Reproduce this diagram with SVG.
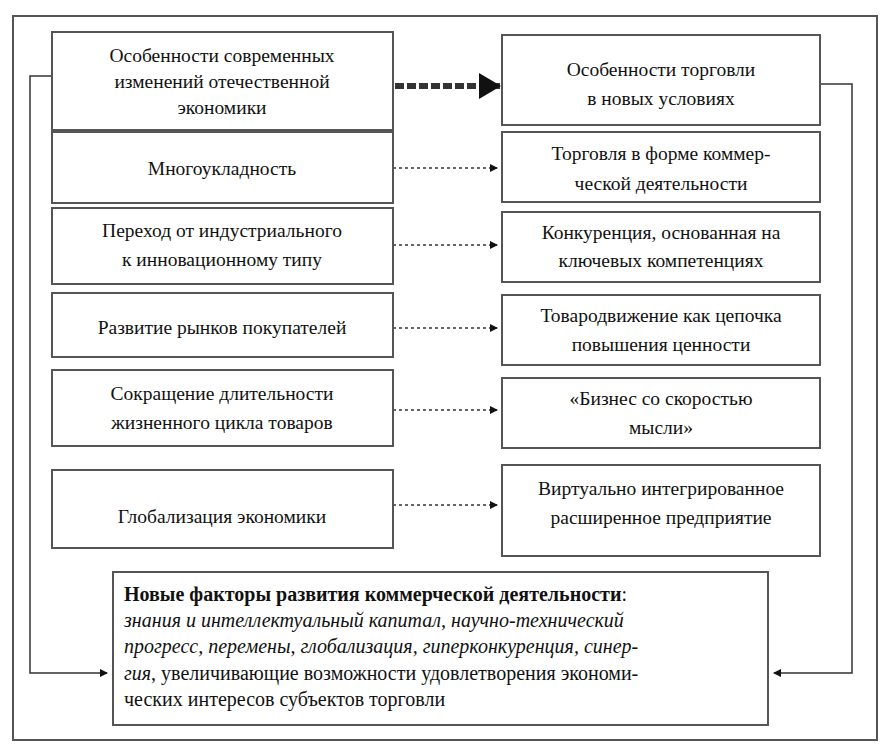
<svg xmlns="http://www.w3.org/2000/svg" width="888" height="745" viewBox="0 0 888 745">
<style>
rect{fill:#fff;stroke:#555;stroke-width:2}
text{font-family:"Liberation Serif",serif;font-size:19.5px;fill:#111;text-anchor:middle}
.l{fill:none;stroke:#333;stroke-width:1.5}
.d{fill:none;stroke:#333;stroke-width:1.5;stroke-dasharray:3 3}
.s{text-anchor:start;font-size:20px}
</style>
<defs>
<marker id="a" markerWidth="8" markerHeight="8" refX="7" refY="4" orient="auto" markerUnits="userSpaceOnUse"><path d="M0,0L8,4L0,8z" fill="#111"/></marker>
<marker id="b" markerWidth="22" markerHeight="26" refX="21" refY="13" orient="auto" markerUnits="userSpaceOnUse"><path d="M0,0L22,13L0,26z" fill="#111"/></marker>
</defs>
<rect x="13" y="16" width="864" height="724"/>
<g id="connectors">
<path class="d" d="M395,86H500" style="stroke-width:6;stroke-dasharray:9 3" marker-end="url(#b)"/>
<path class="d" d="M393,168H497" marker-end="url(#a)"/>
<path class="d" d="M393,245H497" marker-end="url(#a)"/>
<path class="d" d="M393,328H497" marker-end="url(#a)"/>
<path class="d" d="M393,410H497" marker-end="url(#a)"/>
<path class="d" d="M393,505H497" marker-end="url(#a)"/>
<path class="l" d="M52,76H30V673H107" marker-end="url(#a)"/>
<path class="l" d="M820,84H852V673H774" marker-end="url(#a)"/>
</g>
<g id="n1"><rect x="52" y="32" width="341" height="98"/><text x="222" y="62">Особенности современных</text><text x="222" y="88">изменений отечественной</text><text x="222" y="114">экономики</text></g>
<g id="n2"><rect x="52" y="132" width="341" height="71"/><text x="222" y="175">Многоукладность</text></g>
<g id="n3"><rect x="52" y="208" width="341" height="76"/><text x="222" y="237">Переход от индустриального</text><text x="222" y="266">к инновационному типу</text></g>
<g id="n4"><rect x="52" y="293" width="341" height="64"/><text x="222" y="334">Развитие рынков покупателей</text></g>
<g id="n5"><rect x="52" y="370" width="341" height="76"/><text x="222" y="400">Сокращение длительности</text><text x="222" y="429">жизненного цикла товаров</text></g>
<g id="n6"><rect x="52" y="470" width="341" height="78"/><text x="222" y="523">Глобализация экономики</text></g>
<g id="r1"><rect x="502" y="35" width="318" height="90"/><text x="661" y="76">Особенности торговли</text><text x="661" y="105">в новых  условиях</text></g>
<g id="r2"><rect x="502" y="132" width="318" height="70"/><text x="661" y="160">Торговля в форме коммер-</text><text x="661" y="190">ческой деятельности</text></g>
<g id="r3"><rect x="502" y="212" width="318" height="70"/><text x="661" y="239">Конкуренция, основанная на</text><text x="661" y="267">ключевых компетенциях</text></g>
<g id="r4"><rect x="502" y="295" width="318" height="70"/><text x="661" y="322">Товародвижение как цепочка</text><text x="661" y="351">повышения ценности</text></g>
<g id="r5"><rect x="502" y="378" width="318" height="70"/><text x="661" y="405">«Бизнес со скоростью</text><text x="661" y="434">мысли»</text></g>
<g id="r6"><rect x="502" y="465" width="318" height="91"/><text x="661" y="495">Виртуально интегрированное</text><text x="661" y="524">расширенное предприятие</text></g>
<g id="bottom"><rect x="113" y="572" width="655" height="153"/>
<text class="s" x="124" y="601"><tspan font-weight="bold">Новые факторы развития коммерческой деятельности</tspan>:</text>
<text class="s" x="124" y="627" font-style="italic">знания и интеллектуальный капитал, научно-технический</text>
<text class="s" x="124" y="653" font-style="italic">прогресс, перемены, глобализация, гиперконкуренция, синер-</text>
<text class="s" x="124" y="680"><tspan font-style="italic">гия</tspan>, увеличивающие возможности удовлетворения экономи-</text>
<text class="s" x="124" y="706">ческих интересов субъектов торговли</text>
</g>
</svg>
